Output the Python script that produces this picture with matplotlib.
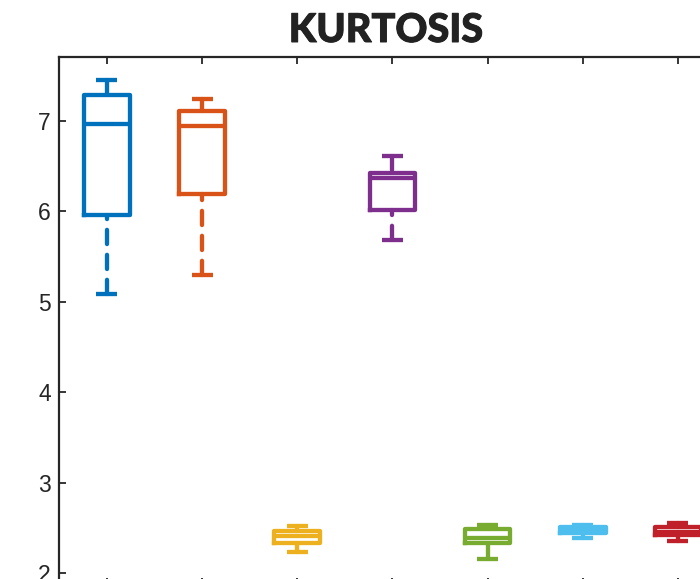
import matplotlib
matplotlib.use("Agg")
import matplotlib.pyplot as plt
import matplotlib.patheffects as pe

# ---- data ----
positions = [1, 2, 3, 4, 5, 6, 7]
whislo = [5.084, 5.30, 2.236, 5.68, 2.155, 2.387, 2.352]
q1     = [5.955, 6.19, 2.335, 6.01, 2.337, 2.440, 2.417]
med    = [6.970, 6.94, 2.404, 6.366, 2.382, 2.470, 2.450]
q3     = [7.290, 7.107, 2.470, 6.43, 2.487, 2.510, 2.510]
whishi = [7.450, 7.238, 2.515, 6.615, 2.531, 2.535, 2.555]
colors = ["#0072BD", "#D95319", "#EDB120", "#7E2F8E", "#77AC30", "#4DBEEE", "#C0202A"]
yticks = [2, 3, 4, 5, 6, 7]
title = "KURTOSIS"

W, H = 700, 579
fig = plt.figure(figsize=(W / 100, H / 100), dpi=100)
# axes extends beyond the right and bottom edges of the figure (cropped view)
left, right, top, bottom = 59.3, 725.5, 56.7, 584.5
ax = fig.add_axes([left / W, (H - bottom) / H, (right - left) / W, (bottom - top) / H])

lw = 3.1
for i, p in enumerate(positions):
    c = colors[i]
    stats = [dict(whislo=whislo[i], q1=q1[i], med=med[i], q3=q3[i], whishi=whishi[i], fliers=[])]
    ax.bxp(stats, positions=[p], widths=0.48, showfliers=False, capwidths=[0.22],
           boxprops=dict(color=c, linewidth=lw, solid_joinstyle="round"),
           medianprops=dict(color=c, linewidth=lw),
           whiskerprops=dict(linestyle="none"),
           capprops=dict(color=c, linewidth=lw, solid_capstyle="butt"),
           manage_ticks=False)
    # whiskers drawn from the whisker end towards the box (MATLAB dash phase)
    for a, b in ((whislo[i], q1[i]), (whishi[i], q3[i])):
        ax.plot([p, p], [a, b], color=c, linewidth=lw,
                linestyle=(0, (3.3, 2.5)), dash_capstyle="round", zorder=1.5)

ax.set_xlim(0.5, 7.5)
ax.set_ylim(1.873, 7.711)
ax.set_xticks(positions)
ax.set_xticklabels([])
ax.set_yticks(yticks)
ax.set_yticklabels([str(t) for t in yticks], fontfamily="Liberation Sans", fontsize=16.5, color="#262626")
ax.tick_params(direction="in", length=5, width=1.3, color="#262626", top=True, right=True, pad=6)
for s in ax.spines.values():
    s.set_linewidth(1.6)
    s.set_color("#262626")

fig.text(386 / W, 1 - 42 / H, title, ha="center", va="baseline",
         fontfamily="Lato", fontweight="black", fontsize=28.5, color="#222222",
         path_effects=[pe.withStroke(linewidth=0.7, foreground="#222222")])

fig.savefig("out.png", dpi=100)
